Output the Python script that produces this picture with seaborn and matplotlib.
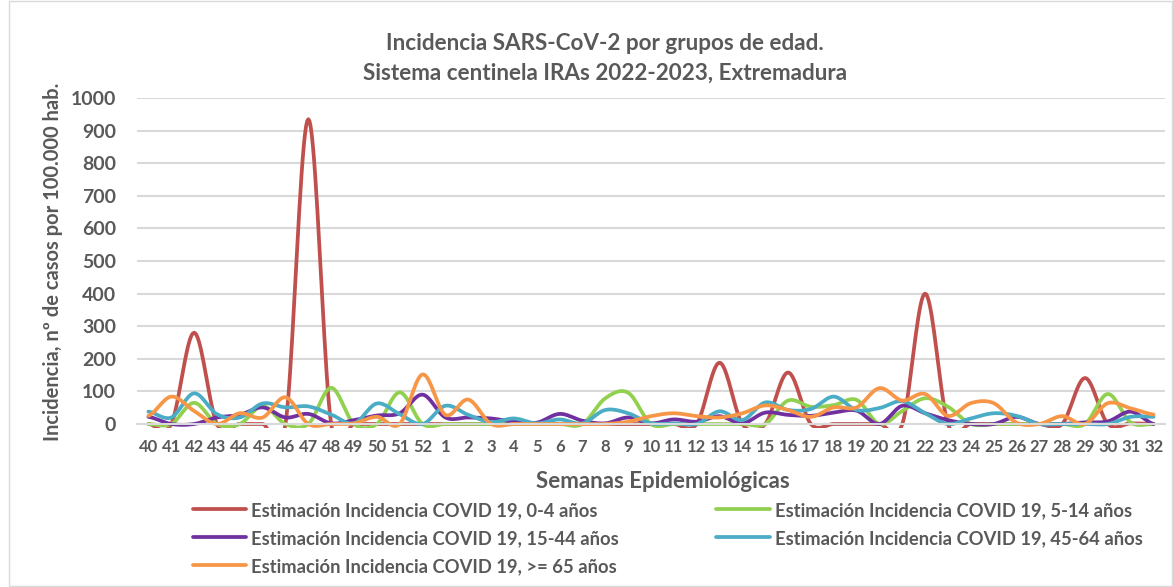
import numpy as np
import matplotlib
matplotlib.use('Agg')
import matplotlib.pyplot as plt
import seaborn as sns
from matplotlib.patches import Rectangle

# semanas epidemiológicas 40..52 (2022) y 1..32 (2023)
semanas = [str(s) for s in list(range(40, 53)) + list(range(1, 33))]

# valores (casos por 100.000 hab.)
edad_0_4 = [0, 0, 280, 0, 0, 0, 0, 935, 0, 0, 0, 0, 0, 0, 0, 0, 0, 0, 0, 0, 0, 0, 0,
            0, 0, 188, 0, 0, 158, 0, 0, 0, 0, 0, 400, 0, 0, 0, 0, 0, 0, 141, 0, 2, 0]
edad_5_14 = [0, 0, 65, 0, 0, 55, 0, 0, 111, 0, 0, 97, 0, 0, 0, 0, 0, 0, 0, 0, 79, 96, 0,
             0, 0, 0, 0, 0, 72, 53, 58, 74, 0, 40, 79, 53, 0, 0, 0, 0, 0, 0, 92, 5, 0]
edad_15_44 = [22, 0, 0, 20, 28, 51, 20, 31, 2, 12, 26, 33, 90, 20, 20, 17, 7, 4, 31, 10, 2, 20, 2,
              14, 7, 24, 2, 35, 28, 25, 35, 41, 0, 56, 33, 12, 0, 0, 22, 0, 0, 5, 8, 38, 0]
edad_45_64 = [38, 20, 94, 30, 20, 63, 51, 54, 29, 2, 63, 30, 0, 56, 28, 6, 17, 2, 14, 2, 43, 33, 2,
              2, 0, 39, 12, 66, 43, 46, 84, 43, 49, 70, 33, 0, 17, 33, 25, 0, 0, 0, 0, 22, 22]
edad_65 = [25, 84, 40, 0, 33, 20, 82, 0, 0, 2, 22, 0, 152, 28, 75, 0, 0, 0, 0, 0, 0, 7, 24,
           33, 24, 20, 33, 57, 43, 22, 51, 51, 110, 72, 92, 25, 64, 64, 4, 0, 24, 0, 64, 48, 29]

series = [
    ('Estimación Incidencia COVID 19, 0-4 años', edad_0_4, '#C0504D'),
    ('Estimación Incidencia COVID 19, 5-14 años', edad_5_14, '#92D050'),
    ('Estimación Incidencia COVID 19, 15-44 años', edad_15_44, '#7030A0'),
    ('Estimación Incidencia COVID 19, 45-64 años', edad_45_64, '#4BACC6'),
    ('Estimación Incidencia COVID 19, >= 65 años', edad_65, '#F79646'),
]


def suavizar(y, n=20):
    # curva suavizada tipo Excel (Bezier / Catmull-Rom)
    y = np.asarray(y, dtype=float)
    p = np.concatenate([[y[0]], y, [y[-1]]])
    xs, ys = [], []
    t = np.linspace(0, 1, n, endpoint=False)
    for i in range(len(y) - 1):
        p0, p1, p2, p3 = p[i], p[i + 1], p[i + 2], p[i + 3]
        c1 = p1 + (p2 - p0) / 6
        c2 = p2 - (p3 - p1) / 6
        b = (1 - t) ** 3 * p1 + 3 * (1 - t) ** 2 * t * c1 + 3 * (1 - t) * t ** 2 * c2 + t ** 3 * p2
        xs.append(i + t)
        ys.append(b)
    xs.append([len(y) - 1])
    ys.append([y[-1]])
    return np.concatenate(xs), np.concatenate(ys)


sns.set_style('white')
plt.rcParams['font.family'] = ['Lato', 'DejaVu Sans']
plt.rcParams['font.weight'] = 'bold'
gris = '#595959'

fig = plt.figure(figsize=(11.73, 5.87), dpi=100)
ax = fig.add_axes([137 / 1173, 1 - 424 / 587, (1165 - 137) / 1173, (424 - 98) / 587])

clip = Rectangle((0, -0.012), 1, 1.1, transform=ax.transAxes, facecolor='none')
ax.add_patch(clip)
clip.set_visible(False)

for nombre, valores, color in series:
    xs, ys = suavizar(valores)
    sns.lineplot(x=xs, y=ys, ax=ax, color=color, linewidth=2.7, label=nombre,
                 sort=False, estimator=None)
for line in ax.lines:
    line.set_clip_path(clip)

ax.set_xlim(-0.5, len(semanas) - 0.5)
ax.set_ylim(0, 1000)
ax.set_yticks(range(0, 1001, 100))
ax.set_xticks(range(len(semanas)))
ax.set_xticklabels(semanas)
ax.tick_params(axis='x', labelsize=12, colors=gris, length=0, pad=11)
ax.tick_params(axis='y', labelsize=14, colors=gris, length=0, pad=15)
ax.grid(axis='y', color='#D9D9D9', linewidth=1.5)
ax.set_axisbelow(True)
for s in ['left', 'right', 'top']:
    ax.spines[s].set_visible(False)
ax.spines['bottom'].set_color('#D9D9D9')
ax.spines['bottom'].set_linewidth(1.5)

ax.set_xlabel('Semanas Epidemiológicas', fontsize=16, color=gris, fontweight='bold')
ax.xaxis.set_label_coords((663 - 137) / (1165 - 137), -(481 - 424) / (424 - 98))
ax.xaxis.label.set_va('center')
ax.set_ylabel('Incidencia, nº de casos por 100.000 hab.', fontsize=14.5, color=gris,
              fontweight='bold')
ax.yaxis.set_label_coords(-(137 - 53) / (1165 - 137), (424 - 262) / (424 - 98))
ax.yaxis.label.set_va('center')

fig.text(605 / 1173, 1 - 44 / 587, 'Incidencia SARS-CoV-2 por grupos de edad.', ha='center',
         va='center', fontsize=16.2, color=gris, fontweight='bold')
fig.text(605 / 1173, 1 - 73 / 587, 'Sistema centinela IRAs 2022-2023, Extremadura', ha='center',
         va='center', fontsize=16.2, color=gris, fontweight='bold')

handles, labels = ax.get_legend_handles_labels()
ax.get_legend().remove()
orden = [0, 2, 4, 1, 3]
fig.legend([handles[i] for i in orden], [labels[i] for i in orden], ncol=2, frameon=False,
           loc='upper left', bbox_to_anchor=(180 / 1173, 1 - 489 / 587), fontsize=13.2,
           labelcolor=gris, handlelength=2.9, handletextpad=0.3, columnspacing=5.3,
           labelspacing=0.6, borderpad=0.2)

fig.patches.append(Rectangle((9 / 1173, 0.002), 1 - 10 / 1173, 0.996, transform=fig.transFigure,
                             fill=False, edgecolor='#D9D9D9', linewidth=1))

fig.savefig('out.png', dpi=100)
